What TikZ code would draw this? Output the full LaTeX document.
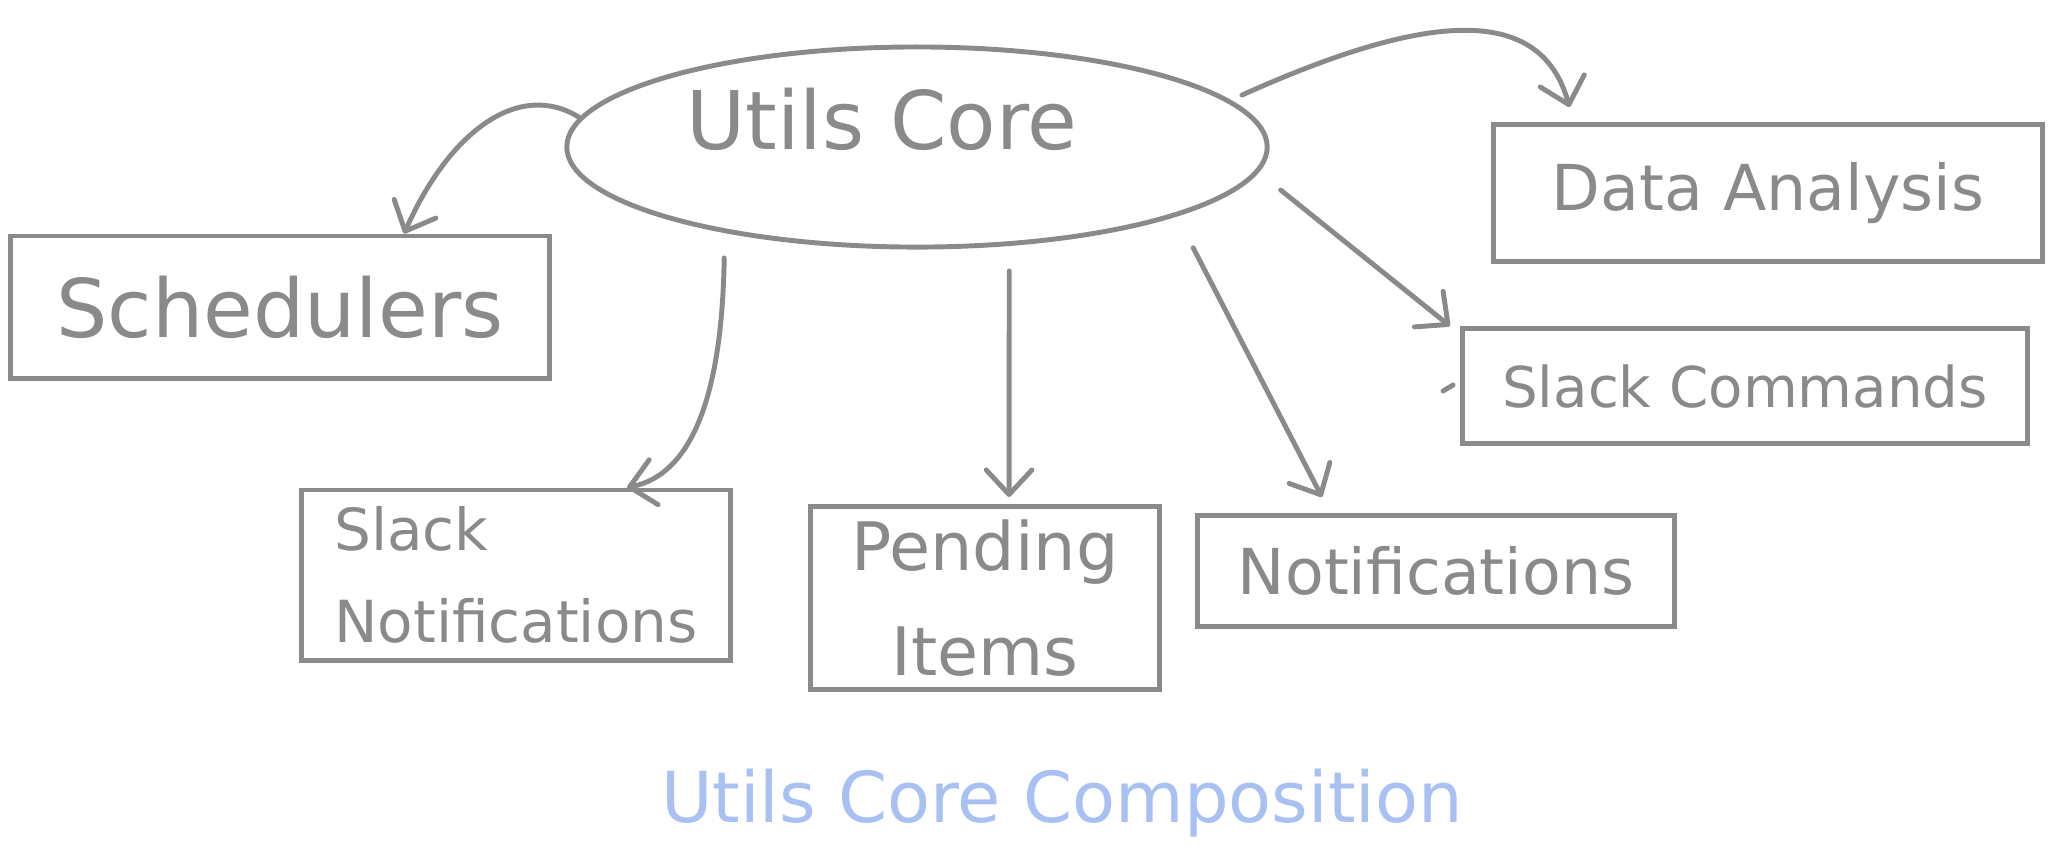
\documentclass[tikz,border=0pt]{standalone}
\usepackage{fontspec}
\setmainfont{DejaVu Sans}
\usetikzlibrary{arrows.meta,shapes.geometric}
\definecolor{linegray}{HTML}{8A8A8A}
\definecolor{titleblue}{HTML}{A9C1F2}

\begin{document}
\begin{tikzpicture}[
x=0.01cm, y=-0.01cm,
box/.style={draw=linegray, line width=1.4pt, text=linegray, font=\fontsize{18}{24}\selectfont, inner sep=0pt},
arrow/.style={-{Straight Barb[length=7pt,width=13pt,round]}, draw=linegray, line width=1.4pt, line cap=round} ]

\useasboundingbox (0,0) rectangle (2058,850);

\node[box, ellipse, minimum width=7cm, minimum height=2cm](core) at (917,147) {};
\node[text=linegray, font=\fontsize{23}{28}\selectfont](coretxt) at (882,119) {Utils Core};

\node[box, minimum width=5.39cm, minimum height=1.42cm, font=\fontsize{23}{28}\selectfont](sched) at (280,307) {Schedulers};

\node[box, minimum width=4.28cm, minimum height=1.70cm, align=left, font=\fontsize{16.5}{26}\selectfont](slnot) at (516,575) {Slack\\Notifications};

\node[box, minimum width=3.48cm, minimum height=1.83cm, align=center, font=\fontsize{19}{30}\selectfont](pend) at (985,598) {Pending\\Items};

\node[box, minimum width=4.77cm, minimum height=1.11cm](notif) at (1436,571) {Notifications};

\node[box, minimum width=5.48cm, minimum height=1.37cm](data) at (1768,193) {Data Analysis};

\node[box, minimum width=5.65cm, minimum height=1.15cm, font=\fontsize{16}{20}\selectfont](slcmd) at (1745,386) {Slack Commands};

\node[text=titleblue, font=\fontsize{20}{24}\selectfont](title) at (1062,803) {Utils Core Composition};

\draw[arrow] (core.175) .. controls (520,80) and (450,130) .. ([xshift=1.24cm]sched.north);

\draw[arrow] ([yshift=-0.25cm]core.204) .. controls (722,400) and (690,475) .. ([xshift=1.11cm]slnot.north);

\draw[arrow] ([yshift=-0.25cm]core.313) -- ([xshift=0.24cm,yshift=0.07cm]pend.north);

\draw[arrow] ([yshift=-0.37cm]core.347) -- ([xshift=-1.14cm,yshift=0.16cm]notif.north);

\draw[arrow] ([xshift=0.11cm,yshift=-0.43cm]core.east) -- ([xshift=-0.1cm]slcmd.north west);

\draw[arrow] ([yshift=0.12cm]core.7) .. controls (1420,15) and (1540,0) .. ([shift={(0.78cm,0.15cm)}]data.north west);

\draw[linegray, line width=1.4pt, line cap=round] (1443,391) -- (1453,385);

\end{tikzpicture}
\end{document}
